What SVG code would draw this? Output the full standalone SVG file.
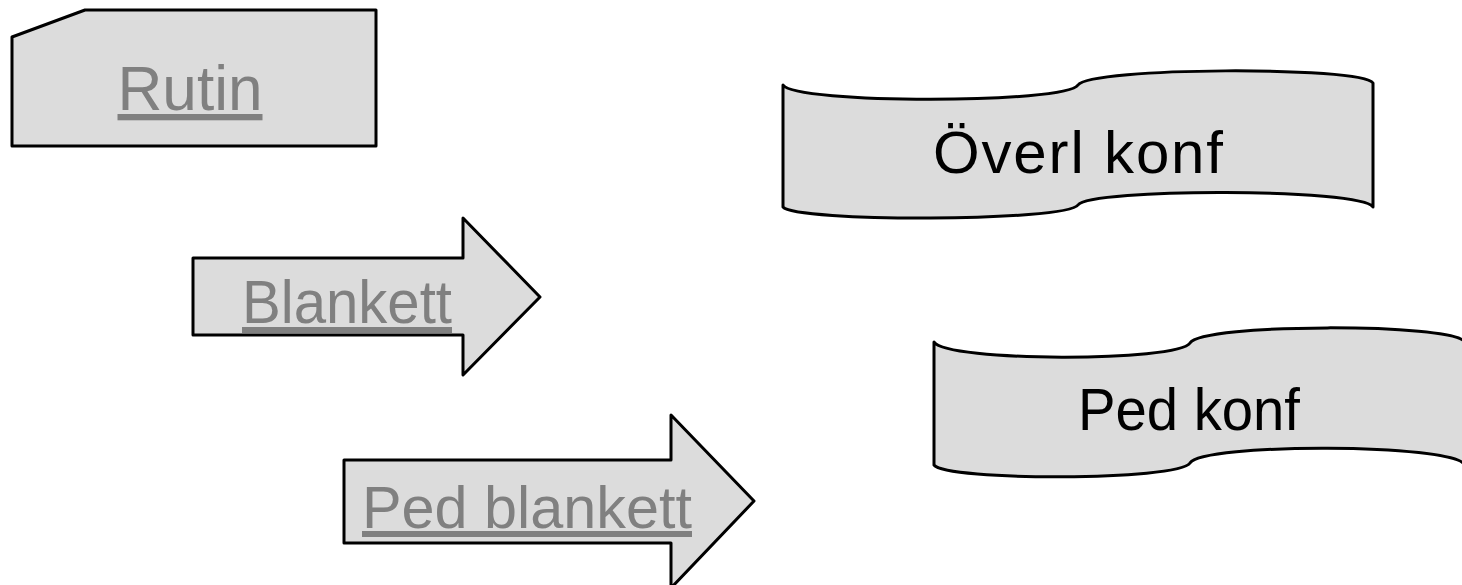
<svg xmlns="http://www.w3.org/2000/svg" width="1462" height="585" viewBox="0 0 1462 585">
<style>
.shape{fill:#dcdcdc;stroke:#000;stroke-width:3;stroke-linejoin:round}
.lbl{font-family:"Liberation Sans",Arial,sans-serif;fill:#808080;text-decoration:underline}
.dark{font-family:"Liberation Sans",Arial,sans-serif;fill:#000}
</style>
<rect width="1462" height="585" fill="#fff"/>
<g id="rutin">
<path class="shape" d="M12,37 L85,10 L376,10 L376,146 L12,146 Z"/>
<text class="lbl" x="190" y="110" font-size="63" text-anchor="middle" textLength="145" lengthAdjust="spacingAndGlyphs">Rutin</text>
</g>
<g id="blankett">
<path class="shape" d="M193,258 L463,258 L463,218 L540,297 L463,375 L463,335 L193,335 Z"/>
<text class="lbl" x="347" y="323" font-size="61" text-anchor="middle" textLength="210" lengthAdjust="spacingAndGlyphs">Blankett</text>
</g>
<g id="ped-blankett">
<path class="shape" d="M344,460 L671,460 L671,415 L754,501 L671,588 L671,543 L344,543 Z"/>
<text class="lbl" x="527" y="528" font-size="60" text-anchor="middle" textLength="330" lengthAdjust="spacingAndGlyphs">Ped blankett</text>
</g>
<g id="overl-konf">
<path class="shape" d="M783,85 C795,104 1066,104 1078,85 C1090,67 1361,66 1373,83 L1373,207 C1361,188 1090,188 1078,205 C1066,222 795,222 783,207 Z"/>
<text class="dark" x="933" y="173" font-size="60" textLength="290" lengthAdjust="spacing">Överl konf</text>
</g>
<g id="ped-konf">
<path class="shape" d="M934,342 C946,362 1178,362 1190,343 C1202,323 1453,323 1465,342 L1465,465 C1453,443 1202,443 1190,463 C1178,481 946,481 934,465 Z"/>
<text class="dark" x="1189" y="430" font-size="60" text-anchor="middle" textLength="222" lengthAdjust="spacingAndGlyphs">Ped konf</text>
</g>
<g id="connectors"></g>
</svg>
